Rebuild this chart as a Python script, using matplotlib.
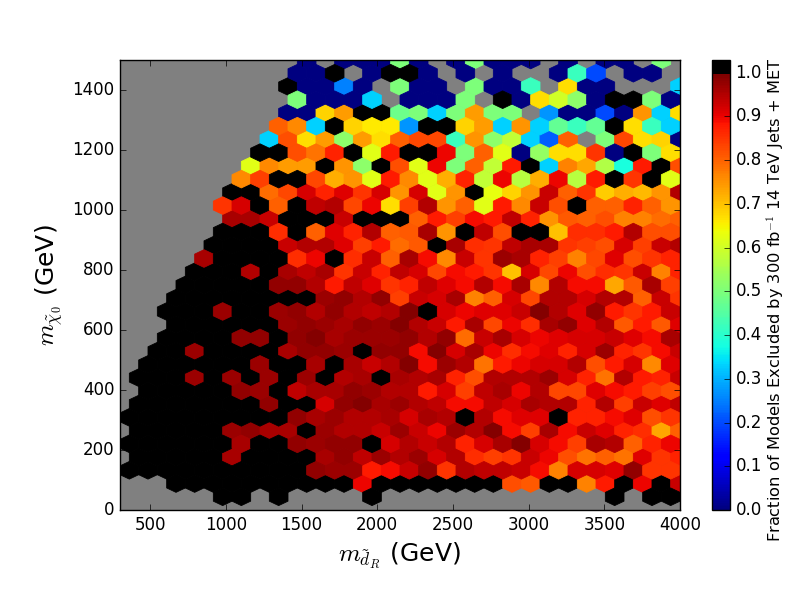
import numpy as np
import matplotlib
matplotlib.use('Agg')
import matplotlib.pyplot as plt
from matplotlib.colors import ListedColormap

_ = np.nan

# fraction excluded per hexagon, one list per lattice row from the bottom up
# (nan = no models in the bin, 1 = all excluded and drawn black)
r01 = [_]*5 + [1,1,_,1] + [_]*4 + [1] + [_]*12 + [1,_,1,1]
r02 = [_]*3 + [1]*10 + [.9] + [1]*7 + [.82,.81,1,1,.77,.88,1,.9,1,.93]
r03 = [1]*10 + [.98,.97,.97,.88,.89,.93,.98,.85,.95,.94,.94,.93,.89,.77,.92,.92,.91,.98,.85,.85]
r04 = [_] + [1]*5 + [.96,1,1,1,1,.96,.98,.94,.97,.95,.97,.92,.95,.86,.84,.85,.93,.9,.82,.78,.8,.78,.91,.85,.87]
r05 = [1]*6 + [.96,1,1,.98,.97,.98,.98,1,.92,.95,.93,.95,.87,.92,.96,.99,.92,.89,.84,.96,.95,.8,.87,.9]
r06 = [_] + [1]*5 + [.97,.98,.96,.96,1,.97,.95,.95,.93,.97,.93,.9,.97,.95,.99,.89,.84,.96,.89,.93,.91,.87,.86,.73,.8]
r07 = [1]*9 + [.98,.96,.97,.95,.95,.96,.92,.96,.95,1,.95,.89,.91,.91,1,.87,.87,.89,.91,.82,.85]
r08 = [_] + [1]*7 + [.98,1,1,.92,.98,.99,.96,.97,.95,.94,.89,.89,.94,.92,.96,.95,.95,.87,.95,.84,.93,.91,.94]
r09 = [_] + [1]*5 + [.98,.97,1,.94,.96,.96,.98,.97,.95,.95,.88,.92,.84,.94,.96,.9,.95,.83,.83,.91,.89,.88,.84,.82]
r10 = [_] + [1,1,1,.97,1,.97,1,.97,1,.97,1,.95,.96,1,.96,.95,.96,.87,.82,.95,.95,.95,.97,.92,.87,.78,.95,.88,.87,.93]
r11 = [_] + [1]*6 + [.97,1,1,.96,1,.96,.93,.95,.99,.89,.97,.95,.78,.88,.9,.92,.92,.95,.82,.88,.92,.76,.91]
r12 = [_]*2 + [1,1,.97,1,1,1,1,.96,.98,.98,.97,1,.98,.98,.89,.99,.92,.96,.9,.86,.89,.91,.87,.92,.97,.87,.85,.89,.93]
r13 = [_]*2 + [1,1,1,1,.98,.98,1,.98,.99,.96,.97,.97,.97,.98,.95,.98,.79,.93,.96,.92,.9,.91,.92,.92,.93,.91,.89,.96]
r14 = [_]*3 + [1]*6 + [.97,.98,.97,.96,.98,.97,.99,.95,.93,.88,.96,.83,.9,.86,.96,.98,.91,.95,.81,.88,.81,.91]
r15 = [_]*2 + [1,1,1,.97,1,1,.97,.98,.95,.98,.95,.94,.95,.99,1,.92,.9,.91,.91,.93,.99,.95,.91,.98,.88,.85,.88,.93]
r16 = [_]*3 + [1]*8 + [.97,.98,.95,.98,.84,.93,.92,.96,.77,.8,.92,.83,.95,.95,.92,.95,.95,.8,.93,.85]
r17 = [_]*3 + [1,1,1,1,1,.98,.98,.95,.88,.94,.91,.85,.87,.94,.91,.89,.95,.89,.96,.76,.95,.89,.89,.73,.81,.96,.84]
r18 = [_]*4 + [1,1,1,.95,1,.96,.94,.96,.85,.93,.87,.94,.92,.83,.89,.88,.85,.7,.92,.83,.9,.82,.86,.85,.93,.77,.87]
r19 = [_]*4 + [.96,1,1,1,1,.86,.9,1,.86,.93,.8,.96,.89,.76,.93,.85,.97,.96,.87,.84,.77,.83,.91,.82,.85,.87]
r20 = [_]*5 + [1,1,1,1,.93,.95,.95,.91,.84,.88,.79,.81,1,.96,.86,.85,.94,.96,.96,.85,.84,.82,.92,.84,.93,.95]
r21 = [_]*5 + [1,1,1,.86,1,.8,.91,.87,.95,.8,.81,.96,.75,1,.94,.82,1,1,.7,.86,.86,.88,.95,.82,.82]
r22 = [_]*6 + [.96,.96,.93,1,1,1,.93,1,1,1,.8,.88,.84,.89,.88,.94,.87,.75,.81,.8,.82,.77,.77,.79,.8]
r23 = [_]*5 + [.85,.92,1,.8,1,.94,.95,.83,.9,.67,.84,.95,.75,.8,.62,.88,.76,.93,.82,1,.8,.8,.87,.8,.75]
r24 = [_]*6 + [1,1,.79,.83,.92,.87,.91,.85,.92,.75,.92,.62,.75,1,.63,.68,.75,.93,.8,.85,.69,.72,.71,.75,.95]
r25 = [_]*6 + [.76,.84,1,1,.83,.72,.75,.62,.88,.76,.62,.72,.87,.58,.9,.57,.72,.9,.57,.88,1,.85,1,.62]
r26 = [_]*7 + [.62,.76,.74,.74,1,.75,.52,1,.82,.62,.9,.5,.8,.58,.88,1,.33,.77,.73,.56,.38,.88,1,.82]
r27 = [_]*7 + [1,1,.82,.78,.87,1,.62,.88,1,1,.9,.5,.8,.62,0,.53,.67,.67,.85,0,1,.5,.67]
r28 = [_]*8 + [.33,.82,.67,.74,.52,.74,.67,.8,.83,.83,.42,.75,.52,.58,.33,.22,.8,_,.5,.83,.67,.68,0]
r29 = [_]*8 + [.8,.76,.33,1,.68,.66,.66,.27,1,1,.68,.74,.33,.75,.33,.47,.42,.47,1,.67,.42,.33]
r30 = [_]*9 + [0,0,.68,.74,1,1,.48,.5,.33,.5,.74,.5,.5,_,.27,0,0,.2,0,.75,.33,.67]
r31 = [_]*9 + [.5,0,0,0,.33,_,0,0,0,.5,_,1,0,.67,.6,.52,0,1,1,.5,0]
r32 = [_]*9 + [1,0,0,.25,0,_,.5,0,0,_,.5,0,0,.42,_,.67,0,0,_,_,_,.33]
r33 = [_]*9 + [0,0,1,_,0,1,1,0,_,0,_,0,_,_,0,.42,.2,_,0,0,_]
r34 = [_]*10 + [0,_,0,0,0,.5,0,_,0,.5,0,0,0,_,0,_,0,0,_,.5,_]
rows = [r01, r02, r03, r04, r05, r06, r07, r08, r09, r10, r11, r12, r13, r14, r15, r16, r17,
        r18, r19, r20, r21, r22, r23, r24, r25, r26, r27, r28, r29, r30, r31, r32, r33, r34]

x_ticks = [500, 1000, 1500, 2000, 2500, 3000, 3500, 4000]
y_ticks = [0, 200, 400, 600, 800, 1000, 1200, 1400]
cbar_ticks = [0.0, 0.1, 0.2, 0.3, 0.4, 0.5, 0.6, 0.7, 0.8, 0.9, 1.0]

plt.style.use('classic')
plt.rcParams['font.family'] = 'DejaVu Sans'

xmin, xmax, ymin, ymax = 300, 4000, 0, 1500
gridsize = 30
sx = (xmax - xmin) / gridsize
sy = (ymax - ymin) / 17

# bin centres: odd rows sit half a hexagon to the right
m_d, m_chi, frac = [], [], []
for k, row in enumerate(rows, start=1):
    for i, val in enumerate(row):
        if np.isnan(val):
            continue
        m_d.append(xmin + (i + 0.5 * (k % 2)) * sx)
        m_chi.append(ymin + k * sy / 2)
        frac.append(val)

# jet up to 1.0, black just above it
jet = plt.get_cmap('jet')
colors = np.vstack([jet(np.linspace(0, 1, 248)), np.tile([0, 0, 0, 1], (8, 1))])
cmap = ListedColormap(colors)

fig = plt.figure(figsize=(8, 6), dpi=100, facecolor='white')
ax = fig.add_axes([0.15, 0.15, 0.70, 0.75], facecolor='#808080')
hb = ax.hexbin(m_d, m_chi, C=frac, gridsize=gridsize, extent=(xmin, xmax, ymin, ymax),
               cmap=cmap, vmin=0, vmax=1.029, edgecolors='face', linewidths=0.6)
ax.set_xlim(xmin, xmax)
ax.set_ylim(ymin, ymax)
ax.set_xticks(x_ticks)
ax.set_yticks(y_ticks)
ax.tick_params(labelsize=12)
ax.set_xlabel(r'$m_{\tilde{d}_R}$ (GeV)', fontsize=18)
ax.set_ylabel(r'$m_{\tilde{\chi}_0}$ (GeV)', fontsize=18)

cax = fig.add_axes([0.89, 0.15, 0.0225, 0.75])
cb = fig.colorbar(hb, cax=cax, ticks=cbar_ticks)
cb.ax.tick_params(labelsize=12)
cb.set_label(r'Fraction of Models Excluded by 300 fb$^{-1}$ 14 TeV Jets + MET', fontsize=11.7)
cb.ax.yaxis.set_label_coords(2.9, 0.467)

fig.savefig('out.png', dpi=100, facecolor='white')
